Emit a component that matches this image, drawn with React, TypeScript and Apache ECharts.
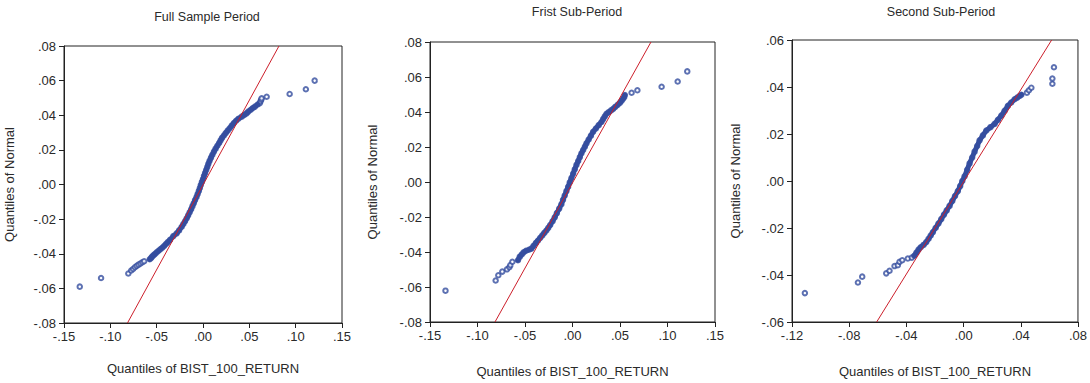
import React, { useEffect, useRef } from "react";
import * as echarts from "echarts";

// ---------- Data ----------
const panelTitles = ["Full Sample Period", "Frist Sub-Period", "Second Sub-Period"];
const xAxisTitle = "Quantiles of BIST_100_RETURN";
const yAxisTitle = "Quantiles of Normal";

// Full sample period: [sample quantile, normal quantile]
const fullLow = [
  [-0.133, -0.059], [-0.110, -0.054], [-0.0806, -0.0514], [-0.0775, -0.0497], [-0.0755, -0.0488],
  [-0.0735, -0.0478], [-0.0715, -0.047], [-0.0695, -0.0463], [-0.0675, -0.0456], [-0.0655, -0.0449],
  [-0.0635, -0.0443],
];
const fullBand = [
  [-0.0575, -0.0432], [-0.056, -0.0424], [-0.0548, -0.0416], [-0.0535, -0.0409], [-0.052, -0.0402],
  [-0.05, -0.0392], [-0.048, -0.0383], [-0.046, -0.0374], [-0.044, -0.0365], [-0.042, -0.0355],
  [-0.04, -0.0344], [-0.038, -0.0333], [-0.0356, -0.032], [-0.032, -0.0298], [-0.0284, -0.0282],
  [-0.0258, -0.0265], [-0.023, -0.0244], [-0.0212, -0.0228], [-0.0194, -0.0212], [-0.0176, -0.0195],
  [-0.016, -0.0178], [-0.0144, -0.016], [-0.0128, -0.0143], [-0.0114, -0.0125], [-0.01, -0.0108],
  [-0.0086, -0.009], [-0.007, -0.0072], [-0.0058, -0.0055], [-0.0045, -0.0037], [-0.0034, -0.002],
  [-0.0024, -0.0003], [-0.0012, 0.0015], [0.0, 0.0032], [0.0011, 0.005], [0.0023, 0.0067],
  [0.0035, 0.0085], [0.0047, 0.0102], [0.0058, 0.012], [0.0071, 0.0137], [0.0086, 0.0155],
  [0.0101, 0.0172], [0.0118, 0.019], [0.0136, 0.0207], [0.0155, 0.0224], [0.0174, 0.024],
  [0.019, 0.0255], [0.0205, 0.0269], [0.0225, 0.0283], [0.0245, 0.0297], [0.0266, 0.0311],
  [0.0288, 0.0325], [0.031, 0.034], [0.0333, 0.0355], [0.0357, 0.0368], [0.0382, 0.038],
  [0.0418, 0.0392], [0.0445, 0.0402], [0.047, 0.0411], [0.0489, 0.0421], [0.0515, 0.0432],
  [0.0538, 0.0442], [0.0561, 0.045], [0.059, 0.0462],
];
const fullHigh = [
  [0.0612, 0.047], [0.062, 0.048], [0.0628, 0.049], [0.0633, 0.0498], [0.0687, 0.0507],
  [0.0935, 0.0523], [0.111, 0.055], [0.1205, 0.06],
];
const fullRefLine = [[-0.0815, -0.08], [0.082, 0.08]];

// First sub-period
const firstLow = [
  [-0.1337, -0.0621], [-0.0809, -0.0563], [-0.0781, -0.0533], [-0.0739, -0.0512], [-0.069, -0.0499],
  [-0.0665, -0.0487], [-0.0654, -0.0475], [-0.0633, -0.0456],
];
const firstBand = [
  [-0.0574, -0.0447], [-0.0556, -0.0428], [-0.0535, -0.0414], [-0.0515, -0.0402], [-0.049, -0.0393],
  [-0.046, -0.0387], [-0.0433, -0.0381], [-0.041, -0.0365], [-0.0385, -0.0348], [-0.0363, -0.0334],
  [-0.034, -0.0319], [-0.0318, -0.0305], [-0.0297, -0.0291], [-0.0275, -0.0277], [-0.0255, -0.0262],
  [-0.0235, -0.0246], [-0.021, -0.0224], [-0.0187, -0.0202], [-0.0165, -0.0178], [-0.014, -0.0152],
  [-0.0117, -0.0127], [-0.01, -0.0102], [-0.0082, -0.0077], [-0.0064, -0.0052], [-0.0046, -0.0027],
  [-0.0029, -0.0002], [-0.0011, 0.0023], [0.0007, 0.0048], [0.0024, 0.0073], [0.0042, 0.0098],
  [0.006, 0.012], [0.0077, 0.0142], [0.0094, 0.0164], [0.0112, 0.0183], [0.013, 0.0202],
  [0.0147, 0.0221], [0.017, 0.0243], [0.0194, 0.0265], [0.0217, 0.0287], [0.0246, 0.0306],
  [0.0276, 0.0325], [0.0305, 0.0343], [0.0322, 0.0359], [0.034, 0.0375], [0.0358, 0.039],
  [0.0381, 0.0399], [0.0405, 0.0409], [0.0428, 0.0418], [0.045, 0.0429], [0.0475, 0.0441],
  [0.0498, 0.0452], [0.0515, 0.0463], [0.053, 0.0474], [0.0544, 0.0484], [0.0551, 0.0497],
];
const firstHigh = [
  [0.0622, 0.051], [0.0683, 0.0524], [0.0938, 0.0544], [0.1107, 0.0574], [0.1208, 0.0632],
];
const firstRefLine = [[-0.0816, -0.08], [0.0826, 0.08]];

// Second sub-period
const secondLow = [
  [-0.111, -0.0477], [-0.0739, -0.0432], [-0.0709, -0.0407], [-0.0541, -0.0393], [-0.0518, -0.0382],
  [-0.0483, -0.0362], [-0.046, -0.0358], [-0.0448, -0.0344], [-0.0429, -0.0337], [-0.039, -0.033],
  [-0.0362, -0.0326],
];
const secondBand = [
  [-0.0345, -0.0318], [-0.033, -0.0305], [-0.0315, -0.0292], [-0.03, -0.0282], [-0.028, -0.0272],
  [-0.0261, -0.026], [-0.0245, -0.0246], [-0.023, -0.0232], [-0.0215, -0.0218], [-0.0195, -0.0199],
  [-0.0176, -0.0181], [-0.0156, -0.0162], [-0.0137, -0.0143], [-0.0118, -0.0125], [-0.0098, -0.0106],
  [-0.0079, -0.0085], [-0.006, -0.0064], [-0.004, -0.0043], [-0.0024, -0.0022], [-0.0009, 0.0],
  [0.0007, 0.002], [0.0025, 0.0048], [0.0042, 0.0075], [0.006, 0.01], [0.0077, 0.0125],
  [0.0095, 0.0149], [0.0112, 0.0173], [0.0135, 0.0194], [0.0159, 0.0215], [0.0188, 0.0229],
  [0.0217, 0.0243], [0.024, 0.026], [0.0264, 0.0278], [0.0287, 0.0299], [0.031, 0.032],
  [0.0333, 0.0334], [0.0357, 0.0348], [0.0375, 0.0355], [0.0392, 0.0362], [0.0404, 0.0367],
];
const secondHigh = [
  [0.0443, 0.0376], [0.0457, 0.0386], [0.0474, 0.0397], [0.0621, 0.0414], [0.0621, 0.0436],
  [0.0632, 0.0484],
];
const secondRefLine = [[-0.0608, -0.06], [0.0616, 0.06]];

// Axis ranges / ticks
const xRanges = [
  { min: -0.15, max: 0.15, interval: 0.05 },
  { min: -0.15, max: 0.15, interval: 0.05 },
  { min: -0.12, max: 0.08, interval: 0.04 },
];
const yRanges = [
  { min: -0.08, max: 0.08, interval: 0.02 },
  { min: -0.08, max: 0.08, interval: 0.02 },
  { min: -0.06, max: 0.06, interval: 0.02 },
];

// ---------- Layout / style ----------
const FONT = "'Liberation Sans', Arial, sans-serif";
const TEXT = "#2a2a2a";
const DOT = "#344d9f";
const RED = "#cc1f2b";
const grids = [
  { left: 64, top: 46, width: 278, height: 277 },
  { left: 430, top: 42, width: 285, height: 284 },
  { left: 792, top: 40, width: 286, height: 286 },
];
const titlePos = [
  { cx: 202, top: 5 },
  { cx: 572, top: 0 },
  { cx: 936, top: 0 },
];
const yNameGap = [48, 51, 50];
const xNameGap = [39, 43, 43];

function fmt(v: number): string {
  const s = v.toFixed(2);
  return s.replace("0.", ".");
}

export default function App() {
  const ref = useRef<HTMLDivElement>(null);
  useEffect(() => {
    if (!ref.current) return;
    const chart = echarts.init(ref.current, null, { renderer: "svg" });
    const panels = [
      { low: fullLow, band: fullBand, high: fullHigh, ref: fullRefLine },
      { low: firstLow, band: firstBand, high: firstHigh, ref: firstRefLine },
      { low: secondLow, band: secondBand, high: secondHigh, ref: secondRefLine },
    ];
    const series: any[] = [];
    panels.forEach((p, i) => {
      series.push({
        type: "scatter",
        xAxisIndex: i,
        yAxisIndex: i,
        data: [...p.low, ...p.band, ...p.high],
        symbol: "emptyCircle",
        symbolSize: 4.5,
        itemStyle: { color: DOT, borderColor: DOT, borderWidth: 1 },
        z: 2,
        silent: true,
      });
      series.push({
        type: "line",
        xAxisIndex: i,
        yAxisIndex: i,
        data: p.band,
        showSymbol: false,
        smooth: false,
        lineStyle: { color: DOT, width: 5, cap: "round", join: "round" },
        z: 3,
        silent: true,
      });
      series.push({
        type: "line",
        xAxisIndex: i,
        yAxisIndex: i,
        data: p.ref,
        showSymbol: false,
        lineStyle: { color: RED, width: 1 },
        z: 4,
        silent: true,
      });
    });

    chart.setOption({
      animation: false,
      backgroundColor: "#ffffff",
      title: panelTitles.map((t, i) => ({
        text: t,
        left: titlePos[i].cx,
        top: titlePos[i].top,
        textAlign: "center",
        textStyle: { fontFamily: FONT, fontSize: 12.5, fontWeight: "normal", color: TEXT },
      })),
      grid: grids.map((g) => ({
        ...g,
        show: true,
        borderColor: "#222",
        borderWidth: 1,
        backgroundColor: "transparent",
        containLabel: false,
      })),
      xAxis: xRanges.map((r, i) => ({
        type: "value",
        gridIndex: i,
        min: r.min,
        max: r.max,
        interval: r.interval,
        name: xAxisTitle,
        nameLocation: "middle",
        nameGap: xNameGap[i],
        nameTextStyle: { fontFamily: FONT, fontSize: 13, color: TEXT },
        axisLine: { show: true, onZero: false, lineStyle: { color: "#222", width: 1 } },
        axisTick: { show: true, inside: false, length: 5, lineStyle: { color: "#222" } },
        axisLabel: {
          fontFamily: FONT,
          fontSize: 13,
          color: TEXT,
          margin: 7,
          formatter: (v: number) => fmt(v),
          showMinLabel: true,
          showMaxLabel: true,
        },
        splitLine: { show: false },
      })),
      yAxis: yRanges.map((r, i) => ({
        type: "value",
        gridIndex: i,
        min: r.min,
        max: r.max,
        interval: r.interval,
        name: yAxisTitle,
        nameLocation: "middle",
        nameRotate: 90,
        nameGap: yNameGap[i],
        nameTextStyle: { fontFamily: FONT, fontSize: 13, color: TEXT },
        axisLine: { show: true, onZero: false, lineStyle: { color: "#222", width: 1 } },
        axisTick: { show: true, inside: false, length: 5, lineStyle: { color: "#222" } },
        axisLabel: {
          fontFamily: FONT,
          fontSize: 13,
          color: TEXT,
          margin: 8,
          formatter: (v: number) => fmt(v),
          showMinLabel: true,
          showMaxLabel: true,
        },
        splitLine: { show: false },
      })),
      series,
    });
    return () => chart.dispose();
  }, []);

  return (
    <div
      ref={ref}
      style={{ position: "fixed", left: 0, top: 0, width: 1090, height: 383, background: "#fff" }}
    />
  );
}
